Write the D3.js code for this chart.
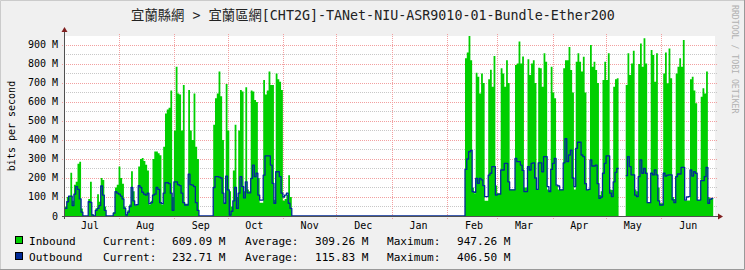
<!DOCTYPE html>
<html><head><meta charset="utf-8">
<script src="https://cdn.jsdelivr.net/npm/d3@7"></script>
<style>html,body{margin:0;padding:0;background:#f0f0f0;}svg{display:block;}</style>
</head><body>
<script>
// ---- data (Mbps, daily, starting 2022-07-02) ----
const startDate = "2022-07-02";
const endDate = "2023-07-01";
const inbound = [
50,100,105,228,80,165,180,275,285,40,
0,0,0,90,180,10,0,40,115,75,
200,190,50,0,0,0,0,20,150,165,
260,200,170,50,10,30,60,235,130,55,
60,260,300,305,290,270,240,60,80,300,
340,340,330,320,60,365,540,560,570,660,
100,450,785,645,640,450,690,65,65,663,
450,400,645,365,300,0,0,0,0,0,
0,0,0,480,620,645,760,630,400,65,
695,450,130,50,240,480,100,450,663,655,
130,677,140,130,660,655,610,600,200,70,
70,716,640,660,760,690,690,85,750,720,
707,663,80,90,110,215,100,0,0,0,
0,0,0,0,0,0,0,0,0,0,
0,0,0,0,0,0,0,0,0,0,
0,0,0,0,0,0,0,0,0,0,
0,0,0,0,0,0,0,0,0,0,
0,0,0,0,0,0,0,0,0,0,
0,0,0,0,0,0,0,0,0,0,
0,0,0,0,0,0,0,0,0,0,
0,0,0,0,0,0,0,0,0,0,
0,0,0,0,0,0,0,0,0,0,
0,0,0,0,830,860,947.26,820,150,120,
754,733,645,750,700,80,80,720,770,680,
842,160,120,120,777,750,680,820,700,140,
140,140,795,803,918,803,840,150,150,825,
742,803,820,700,137,780,777,680,856,812,
140,137,786,650,620,160,140,140,140,777,
820,820,890,768,650,140,812,856,812,760,
838,650,137,140,900,786,812,768,700,110,
130,716,812,716,856,140,137,680,720,725,
856,null,null,null,690,856,742,803,870,140,
130,800,908,786,935,803,70,70,874,847,
707,856,150,67,67,750,860,698,882,725,
100,90,750,786,830,786,926,81,81,81,
719,733,660,593,84,84,628,672,645,760,
100,93,93];
const outbound = [
40,75,105,105,55,115,155,140,90,20,
0,0,0,75,72,5,0,30,40,55,
158,110,30,0,0,0,0,15,128,120,
115,105,90,40,5,20,50,150,80,58,
60,160,150,125,115,110,120,65,70,110,
115,150,140,70,65,120,175,175,170,120,
30,180,180,165,160,120,70,58,58,220,
165,163,155,70,30,0,0,0,0,0,
0,0,0,150,207,207,205,200,120,67,
210,137,5,25,80,150,40,120,207,155,
95,180,122,122,198,268,207,225,110,84,
84,215,316,316,316,268,172,67,233,233,
207,120,100,110,120,67,40,0,0,0,
0,0,0,0,0,0,0,0,0,0,
0,0,0,0,0,0,0,0,0,0,
0,0,0,0,0,0,0,0,0,0,
0,0,0,0,0,0,0,0,0,0,
0,0,0,0,0,0,0,0,0,0,
0,0,0,0,0,0,0,0,0,0,
0,0,0,0,0,0,0,0,0,0,
0,0,0,0,0,0,0,0,0,0,
0,0,0,0,0,0,0,0,0,0,
0,0,0,0,245,300,338,345,128,125,
198,172,198,190,160,102,102,215,225,260,
260,110,115,115,242,242,277,277,180,137,
137,137,303,286,286,268,240,128,128,260,
242,277,280,200,140,280,280,233,312,312,
155,128,245,277,303,163,158,137,137,280,
406.5,286,321,347,200,155,356,388,388,321,
312,170,137,140,295,263,263,268,170,93,
100,225,277,316,316,120,102,180,230,250,
250,null,null,null,212,312,260,216,216,110,
102,207,295,225,250,225,70,70,225,216,
242,216,80,58,58,225,210,215,216,216,
85,70,207,221,221,256,256,84,100,102,
242,210,233,225,84,84,186,186,207,256,
67,88,93];
const yTicks = [0,100,200,300,400,500,600,700,800,900];
const yTickLabels = ["0","100 M","200 M","300 M","400 M","500 M","600 M","700 M","800 M","900 M"];
const monthLabels = ["Jul","Aug","Sep","Oct","Nov","Dec","Jan","Feb","Mar","Apr","May","Jun"];
const titleText = "宜蘭縣網 > 宜蘭區網[CHT2G]-TANet-NIU-ASR9010-01-Bundle-Ether200";
const yTitle = "bits per second";
const seriesNames = ["Inbound","Outbound"];
const currentVals = ["609.09 M","232.71 M"];
const averageVals = ["309.26 M","115.83 M"];
const maximumVals = ["947.26 M","406.50 M"];
const yMax = 947.26;

// ---- layout ----
const W = 745, H = 270;
const L = 65, R = 715, T = 36, B = 216;
const colIn = "#00CF00", colOut = "#002A97";
const mono = "'DejaVu Sans Mono', monospace";

const svg = d3.select("body").append("svg").attr("width", W).attr("height", H);
svg.append("rect").attr("width", W).attr("height", H).attr("fill", "#f0f0f0");
// frame
svg.append("path").attr("d", `M0.5,${H}V0.5H${W}`).attr("stroke", "#cbcbcb").attr("stroke-width", 1).attr("fill", "none");
svg.append("path").attr("d", `M0,${H-0.5}H${W-0.5}V0`).attr("stroke", "#999999").attr("stroke-width", 1).attr("fill", "none");

const t0 = d3.utcParse("%Y-%m-%d")(startDate);
const t1 = d3.utcParse("%Y-%m-%d")(endDate);
const x = d3.scaleUtc().domain([t0, t1]).range([L, R]);
const y = d3.scaleLinear().domain([0, yMax]).range([B, T]);

// canvas
svg.append("rect").attr("x", L).attr("y", T).attr("width", R - L).attr("height", B - T).attr("fill", "#ffffff");

// grid (under data)
const g = svg.append("g");
const minorVals = d3.range(50, yMax, 100);
g.selectAll(".mn").data(minorVals).join("line")
  .attr("x1", L - 1).attr("x2", R + 2)
  .attr("y1", d => Math.round(y(d)) + 0.5).attr("y2", d => Math.round(y(d)) + 0.5)
  .attr("stroke", "#c8c8c8").attr("stroke-dasharray", "1,1");
g.selectAll(".mj").data(yTicks.filter(v => v > 0)).join("line")
  .attr("x1", L - 3).attr("x2", R + 2)
  .attr("y1", d => Math.round(y(d)) + 0.5).attr("y2", d => Math.round(y(d)) + 0.5)
  .attr("stroke", "#f2a0a0").attr("stroke-dasharray", "1,1");
const months = d3.utcMonth.range(d3.utcMonth.ceil(t0), t1);
g.selectAll(".vm").data(months).join("line")
  .attr("x1", d => Math.round(x(d)) + 0.5).attr("x2", d => Math.round(x(d)) + 0.5)
  .attr("y1", B + 3).attr("y2", T - 3)
  .attr("stroke", "#f2a0a0").attr("stroke-dasharray", "1,1");

// data points
function pts(arr) {
  const p = arr.map((v, i) => ({ t: d3.utcDay.offset(t0, i), v }));
  p.push({ t: d3.utcDay.offset(t0, arr.length), v: arr[arr.length - 1] });
  return p;
}
const pin = pts(inbound), pout = pts(outbound);

const area = d3.area().defined(d => d.v !== null).curve(d3.curveStepAfter)
  .x(d => x(d.t)).y0(y(0)).y1(d => y(d.v));
svg.append("path").datum(pin).attr("d", area).attr("fill", colIn);

// outbound line
const line = d3.line().defined(d => d.v !== null).curve(d3.curveStepAfter)
  .x(d => x(d.t)).y(d => y(d.v));
svg.append("path").datum(pout).attr("d", line).attr("fill", "none")
  .attr("stroke", colOut).attr("stroke-width", 1.3).attr("stroke-linejoin", "round");

// axes
const axCol = "#505050";
svg.append("line").attr("x1", L - 3).attr("x2", R + 4).attr("y1", B + 0.5).attr("y2", B + 0.5).attr("stroke", axCol);
svg.append("line").attr("x1", L - 0.5).attr("x2", L - 0.5).attr("y1", B + 3).attr("y2", T - 5).attr("stroke", axCol);
svg.append("path").attr("d", `M${R + 3},${B - 2.5}L${R + 8},${B + 0.5}L${R + 3},${B + 3.5}Z`).attr("fill", "#7f1f1f");
svg.append("path").attr("d", `M${L - 3.5},${T - 4}L${L - 0.5},${T - 9}L${L + 2.5},${T - 4}Z`).attr("fill", "#7f1f1f");

// y labels
svg.append("g").selectAll("text").data(yTicks).join("text")
  .attr("x", L - 7).attr("y", d => y(d) + 3.5).attr("text-anchor", "end")
  .attr("font-family", mono).attr("font-size", 10).attr("fill", "#000")
  .text((d, i) => yTickLabels[i]);

// x labels
svg.append("g").selectAll("text").data(d3.utcMonth.range(d3.utcMonth.floor(t0), t1)).join("text")
  .attr("x", d => x(d3.utcDay.offset(d, 15))).attr("y", B + 13).attr("text-anchor", "middle")
  .attr("font-family", mono).attr("font-size", 10).attr("fill", "#000")
  .text((d, i) => monthLabels[i]);

// title
svg.append("text").attr("x", 373).attr("y", 19.5).attr("text-anchor", "middle")
  .attr("font-family", "'DejaVu Sans Mono', 'Noto Sans CJK TC', monospace").attr("font-size", 13.33).attr("fill", "#222")
  .text(titleText);
// y title
svg.append("text").attr("transform", "translate(14.5,126) rotate(-90)").attr("text-anchor", "middle")
  .attr("font-family", mono).attr("font-size", 10).attr("fill", "#000").text(yTitle);
// watermark
svg.append("text").attr("transform", "translate(732,5) rotate(90)").attr("text-anchor", "start")
  .attr("font-family", mono).attr("font-size", 8.2).attr("fill", "#b0b0b0").text("RRDTOOL / TOBI OETIKER");

// legend
const lg = svg.append("g").attr("font-family", mono).attr("font-size", 11.1).attr("fill", "#000");
const cols = [colIn, colOut];
seriesNames.forEach((n, i) => {
  const by = 245 + i * 16;
  lg.append("rect").attr("x", 15.5).attr("y", by - 8.5).attr("width", 7).attr("height", 7)
    .attr("fill", cols[i]).attr("stroke", "#000");
  lg.append("text").attr("x", 29).attr("y", by).text(n);
  lg.append("text").attr("x", 103).attr("y", by).text("Current:");
  lg.append("text").attr("x", 172).attr("y", by).text(currentVals[i]);
  lg.append("text").attr("x", 245).attr("y", by).text("Average:");
  lg.append("text").attr("x", 315).attr("y", by).text(averageVals[i]);
  lg.append("text").attr("x", 387).attr("y", by).text("Maximum:");
  lg.append("text").attr("x", 457).attr("y", by).text(maximumVals[i]);
});
</script>
</body></html>
